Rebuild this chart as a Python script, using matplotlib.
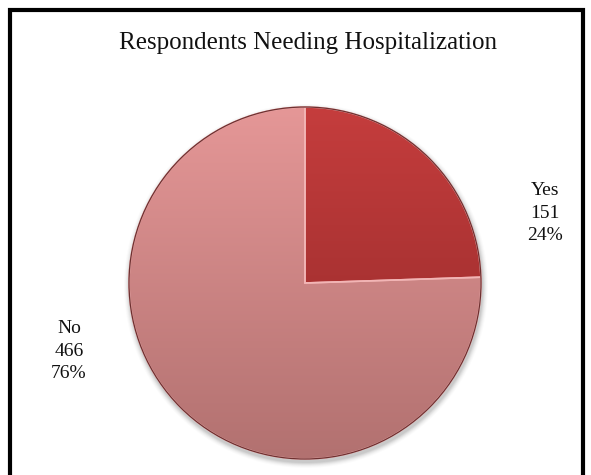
import numpy as np
import matplotlib
matplotlib.use("Agg")
import matplotlib.pyplot as plt
from matplotlib.colors import LinearSegmentedColormap
from matplotlib.patches import Circle, Rectangle

title = "Respondents Needing Hospitalization"
labels = ["Yes", "No"]
counts = [151, 466]

# gradient colours (top -> bottom) for each slice
shades = [("#c53d3d", "#8f2828"), ("#e59797", "#b27170")]

W, H = 591, 475
fig = plt.figure(figsize=(W / 100, H / 100), dpi=100)
ax = fig.add_axes([0, 0, 1, 1])

cx, cy, r = 305, H - 283, 176

# soft shadow under the pie
for i, a in enumerate(np.linspace(0.06, 0.015, 6)):
    ax.add_patch(Circle((cx + 1, cy - 3), r + 1 + i, color="black", alpha=a, lw=0, zorder=1))

wedges, _ = ax.pie(counts, center=(cx, cy), radius=r, startangle=90, counterclock=False,
                   wedgeprops=dict(lw=0), frame=True)

for w, (c0, c1) in zip(wedges, shades):
    w.set_facecolor("none")
    cmap = LinearSegmentedColormap.from_list("g", [c0, c1])
    grad = np.linspace(0, 1, 256).reshape(-1, 1)
    im = ax.imshow(grad, cmap=cmap, extent=(cx - r, cx + r, cy - r, cy + r),
                   origin="upper", aspect="auto", zorder=2)
    im.set_clip_path(w)

# slice borders
for w in wedges:
    w.set_edgecolor("#f2b5b5")
    w.set_linewidth(1.2)
    w.set_zorder(3)
ax.add_patch(Circle((cx, cy), r, fill=False, ec="#6e3030", lw=0.9, zorder=4))

ax.set_xlim(0, W)
ax.set_ylim(0, H)
ax.set_aspect("equal")
ax.axis("off")

total = sum(counts)
texts = [f"{lab}\n{n}\n{round(n / total * 100)}%" for lab, n in zip(labels, counts)]
font = dict(family="Liberation Serif", fontsize=14, ha="center", va="center",
            linespacing=1.45, color="#111111")
ax.text(545, H - 213, texts[0], **font)
ax.text(69, H - 351, texts[1], **font)

ax.text(308, H - 43, title, family="Liberation Serif", fontsize=18,
        ha="center", va="center", color="#111111")

# outer frame
ax.add_patch(Rectangle((9.5, -5), 573, H - 9.5 + 5, fill=False, ec="black", lw=3, zorder=5))

fig.savefig("out.png", dpi=100)
